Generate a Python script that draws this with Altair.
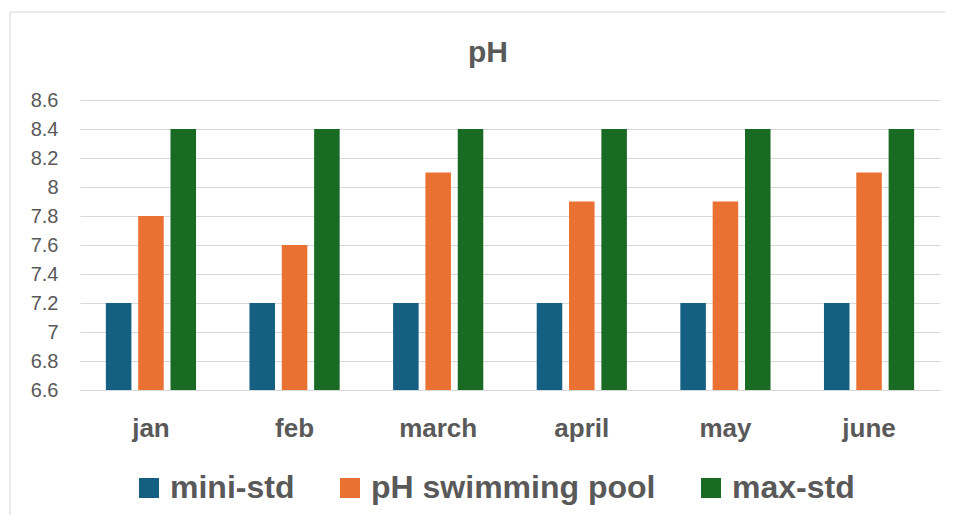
import altair as alt
import pandas as pd

months = ["jan", "feb", "march", "april", "may", "june"]
series_names = ["mini-std", "pH swimming pool", "max-std"]
mini_std = [7.2, 7.2, 7.2, 7.2, 7.2, 7.2]
ph_pool = [7.8, 7.6, 8.1, 7.9, 7.9, 8.1]
max_std = [8.4, 8.4, 8.4, 8.4, 8.4, 8.4]
y_ticks = [6.6, 6.8, 7.0, 7.2, 7.4, 7.6, 7.8, 8.0, 8.2, 8.4, 8.6]
colors = ["#156082", "#E97132", "#196B24"]
y_min, y_max = 6.6, 8.6

rows = []
for i, m in enumerate(months):
    for s, vals in zip(series_names, [mini_std, ph_pool, max_std]):
        rows.append({"month": m, "series": s, "value": vals[i]})
df = pd.DataFrame(rows)

TXT = "#595959"
FONT = "Liberation Sans"

bars = alt.Chart(df).mark_bar().encode(
    x=alt.X(
        "month:N",
        sort=months,
        scale=alt.Scale(paddingInner=0.372, paddingOuter=0.18),
        axis=alt.Axis(
            title=None, labelAngle=0, grid=False, domain=False, ticks=False,
            tickSize=0, labelPadding=46, labelBaseline="alphabetic",
            labelFontSize=26, labelFontWeight="bold", labelColor=TXT, labelFont=FONT,
        ),
    ),
    xOffset=alt.XOffset(
        "series:N", sort=series_names,
        scale=alt.Scale(paddingInner=0.21, paddingOuter=0),
    ),
    y=alt.Y(
        "value:Q",
        scale=alt.Scale(domain=[y_min, y_max], zero=False, nice=False),
        axis=alt.Axis(
            title=None, values=y_ticks, format=".1~f", grid=True,
            gridColor="#d9d9d9", gridWidth=1, domain=False, ticks=False, tickSize=0,
            labelPadding=22, labelFontSize=20, labelColor=TXT, labelFont=FONT,
        ),
    ),
    y2=alt.datum(y_min),
    color=alt.Color(
        "series:N",
        sort=series_names,
        title=None,
        scale=alt.Scale(domain=series_names, range=colors),
        legend=alt.Legend(
            orient="none", direction="horizontal", legendX=53, legendY=372,
            symbolType="square", symbolSize=400, symbolStrokeWidth=0,
            labelFontSize=32, labelFontWeight="bold", labelColor=TXT, labelFont=FONT,
            labelOffset=5, columnPadding=39, padding=0, columns=3, labelLimit=500,
        ),
    ),
)

frame = alt.Chart(pd.DataFrame({"k": [0]})).mark_rect(
    fillOpacity=0, stroke="#d9d9d9", strokeWidth=1
).encode(
    x=alt.value(-70), x2=alt.value(880), y=alt.value(-88), y2=alt.value(440)
)

chart = alt.layer(frame, bars).properties(
    width=860,
    height=290,
    title=alt.TitleParams(
        "pH", fontSize=30, fontWeight="bold", color=TXT, font=FONT,
        anchor="middle", frame="group", dx=-22, offset=-56,
    ),
    autosize=alt.AutoSizeParams(type="none"),
    padding={"left": 72, "top": 92, "right": 6, "bottom": 125},
).configure(background="white").configure_view(strokeWidth=0)

chart.save("out.html", embed_options={"renderer": "svg", "actions": False})
